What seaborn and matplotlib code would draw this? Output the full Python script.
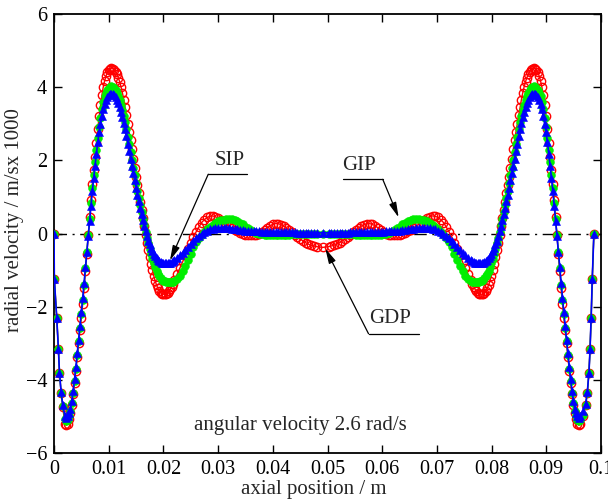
import matplotlib
matplotlib.use("Agg")
import matplotlib.pyplot as plt
import seaborn as sns
import pandas as pd

# ---- axial positions (m): left half, centre, right half ----
x_left = [0, 0.00006, 0.0005, 0.0008, 0.001, 0.0013, 0.0016, 0.002,
          0.00225, 0.0025, 0.00275, 0.003, 0.00325, 0.0035, 0.00375, 0.004,
          0.00425, 0.0045, 0.00475, 0.005, 0.00525, 0.0055, 0.00575, 0.006,
          0.00625, 0.0065, 0.00675, 0.007, 0.00725, 0.0075, 0.00775, 0.008,
          0.00825, 0.0085, 0.00875, 0.009, 0.00925, 0.0095, 0.00975, 0.010,
          0.01025, 0.0105, 0.01075, 0.011, 0.01125, 0.0115, 0.01175, 0.012,
          0.01225, 0.0125, 0.01275, 0.013, 0.01325, 0.0135, 0.01375, 0.014,
          0.01425, 0.0145, 0.01475, 0.015, 0.01525, 0.0155, 0.01575, 0.016,
          0.01625, 0.0165, 0.01675, 0.017, 0.01725, 0.0175, 0.01775, 0.018,
          0.01825, 0.0185, 0.01875, 0.019, 0.01925, 0.0195, 0.01975, 0.020,
          0.02025, 0.0205, 0.02075, 0.021, 0.02125, 0.0215, 0.02175, 0.022,
          0.0225, 0.023, 0.0235, 0.024, 0.0245, 0.025, 0.0255, 0.026,
          0.0265, 0.027, 0.0275, 0.028, 0.0285, 0.029, 0.0295, 0.030,
          0.0305, 0.031, 0.0315, 0.032, 0.0325, 0.033, 0.0335, 0.034,
          0.0345, 0.035, 0.0355, 0.036, 0.0365, 0.037, 0.0375, 0.038,
          0.0385, 0.039, 0.0395, 0.040, 0.0405, 0.041, 0.0415, 0.042,
          0.0425, 0.043, 0.0435, 0.044, 0.0445, 0.045, 0.0455, 0.046,
          0.0465, 0.047, 0.0475, 0.048]
x_centre = [0.0491]
x_right = [0.0502, 0.0507, 0.0512, 0.0517, 0.0522, 0.0527, 0.0532, 0.0537,
           0.0542, 0.0547, 0.0552, 0.0557, 0.0562, 0.0567, 0.0572, 0.0577,
           0.0582, 0.0587, 0.0592, 0.0597, 0.0602, 0.0607, 0.0612, 0.0617,
           0.0622, 0.0627, 0.0632, 0.0637, 0.0642, 0.0647, 0.0652, 0.0657,
           0.0662, 0.0667, 0.0672, 0.0677, 0.0682, 0.0687, 0.0692, 0.0697,
           0.0702, 0.0707, 0.0712, 0.0717, 0.0722, 0.0727, 0.0732, 0.0737,
           0.0742, 0.0747, 0.0752, 0.0757,
           0.0762, 0.07645, 0.0767, 0.07695, 0.0772, 0.07745, 0.0777, 0.07795,
           0.0782, 0.07845, 0.0787, 0.07895, 0.0792, 0.07945, 0.0797, 0.07995,
           0.0802, 0.08045, 0.0807, 0.08095, 0.0812, 0.08145, 0.0817, 0.08195,
           0.0822, 0.08245, 0.0827, 0.08295, 0.0832, 0.08345, 0.0837, 0.08395,
           0.0842, 0.08445, 0.0847, 0.08495, 0.0852, 0.08545, 0.0857, 0.08595,
           0.0862, 0.08645, 0.0867, 0.08695, 0.0872, 0.08745, 0.0877, 0.08795,
           0.0882, 0.08845, 0.0887, 0.08895, 0.0892, 0.08945, 0.0897, 0.08995,
           0.0902, 0.09045, 0.0907, 0.09095, 0.0912, 0.09145, 0.0917, 0.09195,
           0.0922, 0.09245, 0.0927, 0.09295, 0.0932, 0.09345, 0.0937, 0.09395,
           0.0942, 0.09445, 0.0947, 0.09495, 0.0952, 0.09545, 0.0957, 0.09595,
           0.0962, 0.0967, 0.0972, 0.0975, 0.0978, 0.0980, 0.0982, 0.0984, 0.0987]

# ---- GDP (red open circles) ----
gdp_left = [0, -1.25, -2.3, -3.15, -3.8, -4.35, -4.75, -5.2,
            -5.24, -5.2, -5.08, -4.9, -4.68, -4.4, -4.1, -3.75,
            -3.38, -3.0, -2.65, -2.3, -1.92, -1.5, -1.03, -0.55,
            -0.05, 0.45, 0.92, 1.35, 1.74, 2.1, 2.48, 2.85,
            3.2, 3.5, 3.78, 4.0, 4.17, 4.3, 4.41, 4.48,
            4.51, 4.52, 4.51, 4.48, 4.42, 4.35, 4.26, 4.15,
            4.01, 3.85, 3.66, 3.45, 3.23, 3.0, 2.78, 2.55,
            2.3, 2.05, 1.8, 1.55, 1.32, 1.1, 0.87, 0.65,
            0.42, 0.2, -0.03, -0.25, -0.46, -0.65, -0.83, -1.0,
            -1.16, -1.3, -1.41, -1.5, -1.57, -1.62, -1.65, -1.66,
            -1.66, -1.65, -1.62, -1.58, -1.52, -1.45, -1.37, -1.28,
            -1.12, -0.95, -0.78, -0.6, -0.42, -0.25, -0.1, 0.05,
            0.18, 0.3, 0.38, 0.44, 0.47, 0.48, 0.46, 0.42,
            0.37, 0.32, 0.26, 0.2, 0.15, 0.1, 0.06, 0.02,
            -0.01, -0.03, -0.045, -0.05, -0.045, -0.03, 0.0, 0.05,
            0.1, 0.16, 0.21, 0.25, 0.27, 0.27, 0.24, 0.2,
            0.15, 0.09, 0.03, -0.03, -0.09, -0.15, -0.2, -0.25,
            -0.29, -0.32, -0.34, -0.36]
gdp_centre = [-0.38]
gdp_right = [-0.36, -0.34, -0.32, -0.29,
             -0.25, -0.2, -0.15, -0.09, -0.03, 0.03, 0.09, 0.15,
             0.2, 0.24, 0.27, 0.27, 0.25, 0.21, 0.16, 0.1,
             0.05, 0.0, -0.03, -0.045, -0.05, -0.045, -0.03, -0.01,
             0.02, 0.06, 0.1, 0.15, 0.2, 0.26, 0.32, 0.37,
             0.42, 0.46, 0.48, 0.47, 0.44, 0.38, 0.3, 0.18,
             0.05, -0.1, -0.25, -0.42, -0.6, -0.78, -0.95, -1.12,
             -1.28, -1.37, -1.45, -1.52, -1.58, -1.62, -1.65, -1.66,
             -1.66, -1.65, -1.62, -1.57, -1.5, -1.41, -1.3, -1.16,
             -1.0, -0.83, -0.65, -0.46, -0.25, -0.03, 0.2, 0.42,
             0.65, 0.87, 1.1, 1.32, 1.55, 1.8, 2.05, 2.3,
             2.55, 2.78, 3.0, 3.23, 3.45, 3.66, 3.85, 4.01,
             4.15, 4.26, 4.35, 4.42, 4.48, 4.51, 4.52, 4.51,
             4.48, 4.41, 4.3, 4.17, 4.0, 3.78, 3.5, 3.2,
             2.85, 2.48, 2.1, 1.74, 1.35, 0.92, 0.45, -0.05,
             -0.55, -1.03, -1.5, -1.92, -2.3, -2.65, -3.0, -3.38,
             -3.75, -4.1, -4.4, -4.68, -4.9, -5.08, -5.2, -5.24,
             -5.2, -5.0, -4.7, -4.35, -3.8, -3.15, -2.3, -1.25, 0]

# ---- GIP (green filled circles) ----
gip_left = [0, -1.25, -2.3, -3.15, -3.8, -4.35, -4.72, -5.08,
            -5.12, -5.1, -5.0, -4.85, -4.62, -4.35, -4.04, -3.7,
            -3.33, -2.95, -2.58, -2.2, -1.82, -1.4, -0.95, -0.5,
            -0.05, 0.4, 0.84, 1.25, 1.61, 1.95, 2.28, 2.6,
            2.9, 3.15, 3.4, 3.6, 3.75, 3.85, 3.93, 3.98,
            4.01, 4.02, 4.01, 3.98, 3.92, 3.85, 3.76, 3.65,
            3.52, 3.38, 3.22, 3.05, 2.86, 2.65, 2.44, 2.22,
            2.01, 1.8, 1.59, 1.38, 1.17, 0.97, 0.77, 0.58,
            0.4, 0.22, 0.05, -0.12, -0.27, -0.42, -0.56, -0.7,
            -0.82, -0.92, -1.02, -1.1, -1.17, -1.22, -1.26, -1.29,
            -1.31, -1.32, -1.33, -1.33, -1.33, -1.33, -1.32, -1.3,
            -1.24, -1.15, -1.03, -0.88, -0.72, -0.55, -0.38, -0.22,
            -0.11, -0.03, 0.05, 0.12, 0.18, 0.24, 0.29, 0.33,
            0.36, 0.38, 0.39, 0.4, 0.395, 0.38, 0.35, 0.3,
            0.25, 0.19, 0.14, 0.09, 0.05, 0.02, 0.0, -0.02,
            -0.03, -0.04, -0.045, -0.05, -0.05, -0.05, -0.045, -0.04,
            -0.035, -0.03, -0.025, -0.02, -0.015, -0.01, -0.005, 0.0,
            0.0, 0.0, 0.0, 0.0]
gip_centre = [0.0]
gip_right = [0.0, 0.0, 0.0, 0.0,
             0.0, -0.005, -0.01, -0.015, -0.02, -0.025, -0.03, -0.035,
             -0.04, -0.045, -0.05, -0.05, -0.05, -0.045, -0.04, -0.03,
             -0.02, 0.0, 0.02, 0.05, 0.09, 0.14, 0.19, 0.25,
             0.3, 0.35, 0.38, 0.395, 0.4, 0.39, 0.38, 0.36,
             0.33, 0.29, 0.24, 0.18, 0.12, 0.05, -0.03, -0.11,
             -0.22, -0.38, -0.55, -0.72, -0.88, -1.03, -1.15, -1.24,
             -1.3, -1.32, -1.33, -1.33, -1.33, -1.33, -1.32, -1.31,
             -1.29, -1.26, -1.22, -1.17, -1.1, -1.02, -0.92, -0.82,
             -0.7, -0.56, -0.42, -0.27, -0.12, 0.05, 0.22, 0.4,
             0.58, 0.77, 0.97, 1.17, 1.38, 1.59, 1.8, 2.01,
             2.22, 2.44, 2.65, 2.86, 3.05, 3.22, 3.38, 3.52,
             3.65, 3.76, 3.85, 3.92, 3.98, 4.01, 4.02, 4.01,
             3.98, 3.93, 3.85, 3.75, 3.6, 3.4, 3.15, 2.9,
             2.6, 2.28, 1.95, 1.61, 1.25, 0.84, 0.4, -0.05,
             -0.5, -0.95, -1.4, -1.82, -2.2, -2.58, -2.95, -3.33,
             -3.7, -4.04, -4.35, -4.62, -4.85, -5.0, -5.1, -5.12,
             -5.1, -4.95, -4.68, -4.35, -3.8, -3.15, -2.3, -1.25, 0]

# ---- SIP (blue triangles) ----
sip_left = [0, -1.25, -2.3, -3.15, -3.8, -4.33, -4.7, -5.0,
            -5.03, -5.0, -4.92, -4.8, -4.58, -4.3, -3.99, -3.65,
            -3.28, -2.9, -2.53, -2.15, -1.77, -1.35, -0.92, -0.5,
            -0.07, 0.35, 0.76, 1.15, 1.51, 1.85, 2.18, 2.5,
            2.77, 3.0, 3.22, 3.4, 3.54, 3.65, 3.73, 3.78,
            3.81, 3.82, 3.81, 3.78, 3.72, 3.65, 3.56, 3.45,
            3.32, 3.18, 3.02, 2.85, 2.66, 2.45, 2.25, 2.05,
            1.85, 1.65, 1.45, 1.25, 1.06, 0.88, 0.7, 0.52,
            0.36, 0.2, 0.06, -0.08, -0.2, -0.3, -0.4, -0.48,
            -0.56, -0.62, -0.68, -0.72, -0.76, -0.78, -0.8, -0.81,
            -0.82, -0.82, -0.82, -0.81, -0.8, -0.78, -0.76, -0.73,
            -0.67, -0.6, -0.53, -0.45, -0.37, -0.28, -0.2, -0.13,
            -0.06, -0.01, 0.04, 0.08, 0.11, 0.13, 0.14, 0.15,
            0.15, 0.15, 0.145, 0.14, 0.13, 0.12, 0.11, 0.1,
            0.09, 0.08, 0.075, 0.07, 0.065, 0.06, 0.055, 0.05,
            0.05, 0.05, 0.045, 0.04, 0.04, 0.04, 0.035, 0.03,
            0.03, 0.03, 0.03, 0.03, 0.025, 0.02, 0.02, 0.02,
            0.02, 0.02, 0.02, 0.02]
sip_centre = [0.02]
sip_right = [0.02, 0.02, 0.02, 0.02,
             0.02, 0.02, 0.02, 0.025, 0.03, 0.03, 0.03, 0.03,
             0.03, 0.035, 0.04, 0.04, 0.04, 0.045, 0.05, 0.05,
             0.05, 0.055, 0.06, 0.065, 0.07, 0.075, 0.08, 0.09,
             0.1, 0.11, 0.12, 0.13, 0.14, 0.145, 0.15, 0.15,
             0.15, 0.14, 0.13, 0.11, 0.08, 0.04, -0.01, -0.06,
             -0.13, -0.2, -0.28, -0.37, -0.45, -0.53, -0.6, -0.67,
             -0.73, -0.76, -0.78, -0.8, -0.81, -0.82, -0.82, -0.82,
             -0.81, -0.8, -0.78, -0.76, -0.72, -0.68, -0.62, -0.56,
             -0.48, -0.4, -0.3, -0.2, -0.08, 0.06, 0.2, 0.36,
             0.52, 0.7, 0.88, 1.06, 1.25, 1.45, 1.65, 1.85,
             2.05, 2.25, 2.45, 2.66, 2.85, 3.02, 3.18, 3.32,
             3.45, 3.56, 3.65, 3.72, 3.78, 3.81, 3.82, 3.81,
             3.78, 3.73, 3.65, 3.54, 3.4, 3.22, 3.0, 2.77,
             2.5, 2.18, 1.85, 1.51, 1.15, 0.76, 0.35, -0.07,
             -0.5, -0.92, -1.35, -1.77, -2.15, -2.53, -2.9, -3.28,
             -3.65, -3.99, -4.3, -4.58, -4.8, -4.92, -5.0, -5.03,
             -5.0, -4.85, -4.65, -4.33, -3.8, -3.15, -2.3, -1.25, 0]

x_ticks = [0, 0.01, 0.02, 0.03, 0.04, 0.05, 0.06, 0.07, 0.08, 0.09, 0.1]
x_tick_labels = ["0", "0.01", "0.02", "0.03", "0.04", "0.05", "0.06", "0.07", "0.08", "0.09", "0.1"]
y_ticks = [-6, -4, -2, 0, 2, 4, 6]

df = pd.DataFrame({
    "x": x_left + x_centre + x_right,
    "GDP": gdp_left + gdp_centre + gdp_right,
    "GIP": gip_left + gip_centre + gip_right,
    "SIP": sip_left + sip_centre + sip_right,
})

sns.set_style("ticks")
plt.rcParams["font.family"] = ["Liberation Serif", "DejaVu Serif"]
plt.rcParams["axes.unicode_minus"] = True

fig = plt.figure(figsize=(6.08, 5.01), dpi=100)
ax = fig.add_axes([54 / 608, 1 - 453 / 501, 547 / 608, 439 / 501])

ax.axhline(0, color="black", lw=1.0, ls=(0, (9, 4, 1.5, 4)), zorder=1)

sns.lineplot(data=df, x="x", y="GDP", ax=ax, sort=False, estimator=None,
             color="#ff0000", lw=1.0, marker="o", markersize=6,
             markerfacecolor="none", markeredgecolor="#ff0000", markeredgewidth=1.0, zorder=2)
sns.lineplot(data=df, x="x", y="GIP", ax=ax, sort=False, estimator=None,
             color="#00ee00", lw=1.0, marker="o", markersize=5.6,
             markerfacecolor="#00ee00", markeredgecolor="#00ee00", markeredgewidth=0.4, zorder=3)
sns.lineplot(data=df, x="x", y="SIP", ax=ax, sort=False, estimator=None,
             color="#0000ff", lw=1.2, marker="^", markersize=5.6,
             markerfacecolor="#0000ff", markeredgecolor="#0000ff", markeredgewidth=0.4, zorder=4)

ax.set_xlim(0, 0.1)
ax.set_ylim(-6, 6)
ax.set_xticks(x_ticks)
ax.set_xticklabels(x_tick_labels)
ax.set_yticks(y_ticks)

ax.tick_params(direction="in", length=6, width=1, top=True, right=True,
               labelsize=14.5, pad=5, colors="black")
for s in ax.spines.values():
    s.set_linewidth(1.3)
    s.set_color("black")

ax.set_xlabel("axial position / m", fontsize=15)
ax.set_ylabel("radial velocity / m/sx 1000", fontsize=15)
ax.xaxis.set_label_coords(0.475, -0.062)
ax.yaxis.set_label_coords(-0.054, 0.53)

ax.text(0.045, -5.26, "angular velocity 2.6 rad/s", fontsize=15, ha="center", va="center")

arrow = dict(arrowstyle="-|>,head_length=0.9,head_width=0.22", color="black", lw=0.9,
             shrinkA=0, shrinkB=0)
# SIP
ax.text(0.0321, 2.0, "SIP", fontsize=15, ha="center", va="center")
ax.plot([0.0282, 0.0353], [1.62, 1.62], color="black", lw=0.9)
ax.annotate("", xy=(0.0212, -0.74), xytext=(0.0282, 1.62), arrowprops=arrow)
# GIP
ax.text(0.0557, 1.86, "GIP", fontsize=15, ha="center", va="center")
ax.plot([0.0529, 0.0601], [1.48, 1.48], color="black", lw=0.9)
ax.annotate("", xy=(0.0630, 0.44), xytext=(0.0601, 1.48), arrowprops=arrow)
# GDP
ax.text(0.0615, -2.33, "GDP", fontsize=15, ha="center", va="center")
ax.plot([0.0575, 0.0667], [-2.74, -2.74], color="black", lw=0.9)
ax.annotate("", xy=(0.0496, -0.41), xytext=(0.0575, -2.74), arrowprops=arrow)

fig.savefig("out.png", dpi=100)
